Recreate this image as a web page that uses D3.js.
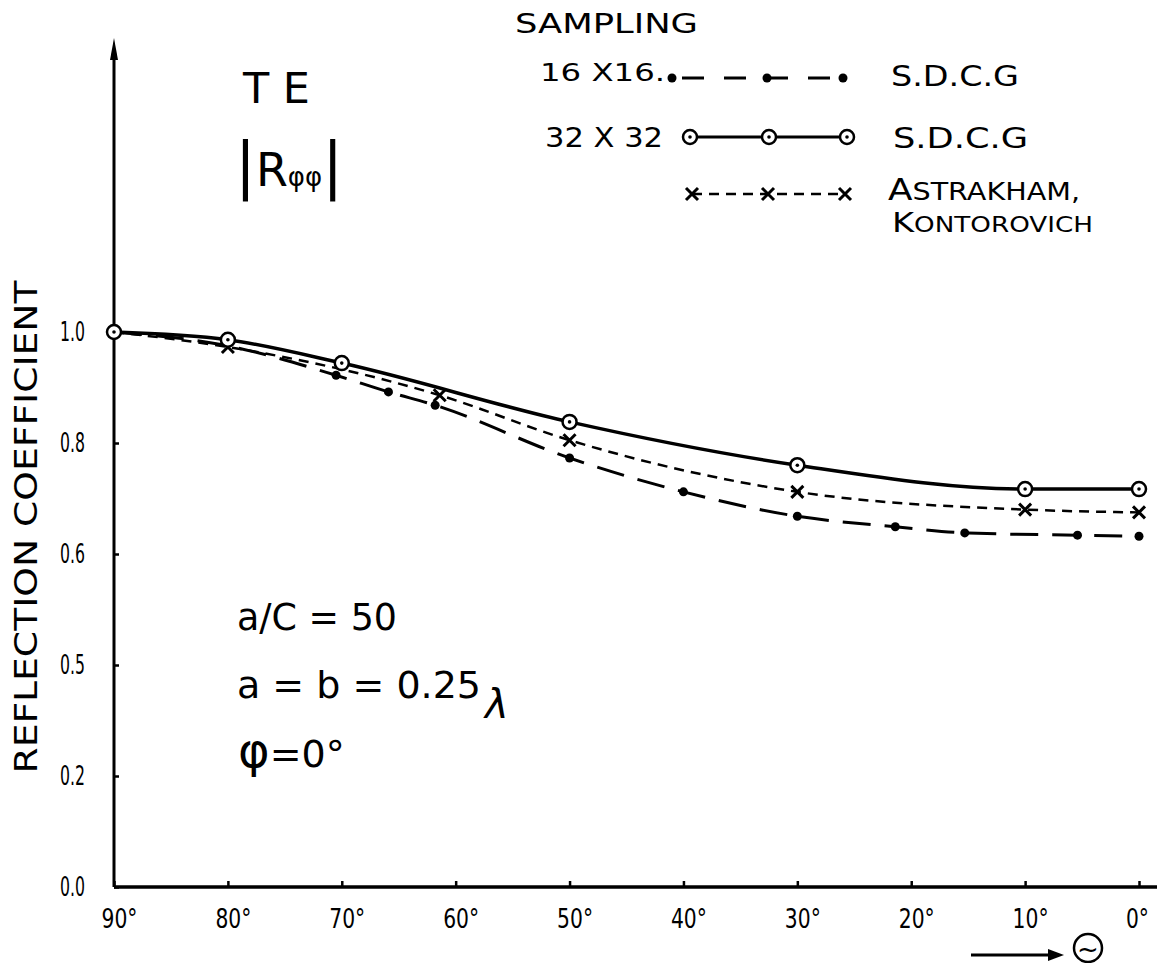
<!DOCTYPE html>
<html lang="en">
<head>
<meta charset="utf-8">
<title>TE |R phi phi| reflection coefficient</title>
<script src="https://d3js.org/d3.v7.min.js"></script>
<style>
    body { margin: 0; background: #fff; }
    svg { display: block; }
    text { font-family: "DejaVu Sans", sans-serif; fill: #000; }
    .axis path { display: none; }
    .axis line { stroke: #000; stroke-width: 2.5; }
</style>
</head>
<body>
<script>
// axis ticks and labels
const angleTicks = [90, 80, 70, 60, 50, 40, 30, 20, 10, 0];
const angleLabels = ["90°", "80°", "70°", "60°", "50°", "40°", "30°", "20°", "10°", "0°"];
const coefTicks = [0, 0.2, 0.4, 0.6, 0.8, 1.0];
const coefLabels = ["0.0", "0.2", "0.5", "0.6", "0.8", "1.0"];

// 32 x 32 sampling, S.D.C.G (solid, circles)
const sdcg32Angle = [90, 80, 70, 50, 30, 10, 0];
const sdcg32Value = [1.0, 0.986, 0.944, 0.838, 0.760, 0.717, 0.717];

// 16 x 16 sampling, S.D.C.G (long dash, dots)
const sdcg16Angle = [90, 80, 70.5, 65.9, 61.8, 50, 40, 30, 21.4, 15.3, 5.4, 0];
const sdcg16Value = [1.0, 0.975, 0.922, 0.892, 0.868, 0.773, 0.712, 0.668, 0.649, 0.638, 0.634, 0.632];

// Astrakham, Kontorovich (short dash, crosses)
const astraAngle = [90, 80, 61.4, 50, 30, 10, 0];
const astraValue = [1.0, 0.973, 0.886, 0.805, 0.712, 0.680, 0.675];

const w = 1159;
const h = 963;

const svg = d3.select("body")
    .append("svg")
    .attr("width", w)
    .attr("height", h);

svg.append("rect").attr("width", w).attr("height", h).attr("fill", "#fff");

// scales
const x = d3.scaleLinear().domain([90, 0]).range([114, 1139]);
const y = d3.scaleLinear().domain([0, 1]).range([887, 332]);

// axes
const xAxis = d3.axisBottom(x)
    .tickValues(angleTicks)
    .tickFormat((d, i) => angleLabels[i])
    .tickSizeInner(-6)
    .tickSizeOuter(0)
    .tickPadding(22);

const yAxis = d3.axisLeft(y)
    .tickValues(coefTicks)
    .tickFormat((d, i) => coefLabels[i])
    .tickSizeInner(-5)
    .tickSizeOuter(0)
    .tickPadding(29);

const gx = svg.append("g")
    .attr("class", "x axis")
    .attr("transform", `translate(0,${y(0)})`)
    .call(xAxis);
gx.selectAll("text")
    .attr("font-size", 27)
    .attr("dx", d => d === 0 ? -2 : 5)
    .attr("textLength", d => 13 * String(d).length + 10)
    .attr("lengthAdjust", "spacingAndGlyphs");

const gy = svg.append("g")
    .attr("class", "y axis")
    .attr("transform", `translate(${x(90)},0)`)
    .call(yAxis);
gy.selectAll("text")
    .attr("font-size", 26)
    .attr("textLength", 25)
    .attr("lengthAdjust", "spacingAndGlyphs");

// axis lines, y with arrow on top
svg.append("line")
    .attr("x1", x(90)).attr("y1", y(0))
    .attr("x2", 1157).attr("y2", y(0))
    .attr("stroke", "#000").attr("stroke-width", 3.5);
svg.append("line")
    .attr("x1", x(90)).attr("y1", y(0))
    .attr("x2", x(90)).attr("y2", 52)
    .attr("stroke", "#000").attr("stroke-width", 3);
svg.append("path")
    .attr("d", `M${x(90)},38 L${x(90) - 4},60 L${x(90) + 4},60 Z`)
    .attr("fill", "#000");

// axis title
svg.append("text")
    .attr("transform", "translate(37,527) rotate(-90)")
    .attr("text-anchor", "middle")
    .attr("font-size", 32)
    .attr("textLength", 493)
    .attr("lengthAdjust", "spacingAndGlyphs")
    .text("REFLECTION  COEFFICIENT");

// theta arrow under x axis
svg.append("line")
    .attr("x1", 971).attr("y1", 955).attr("x2", 1052).attr("y2", 955)
    .attr("stroke", "#000").attr("stroke-width", 3);
svg.append("path")
    .attr("d", "M1064,955 L1048,949 L1048,961 Z")
    .attr("fill", "#000");
svg.append("circle")
    .attr("cx", 1088).attr("cy", 948).attr("r", 14)
    .attr("fill", "none").attr("stroke", "#000").attr("stroke-width", 2.5);
svg.append("text")
    .attr("x", 1088).attr("y", 958)
    .attr("text-anchor", "middle")
    .attr("font-size", 26)
    .text("~");

// lines
const line = d3.line()
    .x(d => x(d[0]))
    .y(d => y(d[1]))
    .curve(d3.curveMonotoneX);

const sdcg32 = d3.zip(sdcg32Angle, sdcg32Value);
const sdcg16 = d3.zip(sdcg16Angle, sdcg16Value);
const astra = d3.zip(astraAngle, astraValue);

svg.append("path")
    .datum(sdcg16)
    .attr("d", line)
    .attr("fill", "none")
    .attr("stroke", "#000")
    .attr("stroke-width", 3)
    .attr("stroke-dasharray", "28,14");

svg.append("path")
    .datum(astra)
    .attr("d", line)
    .attr("fill", "none")
    .attr("stroke", "#000")
    .attr("stroke-width", 2.5)
    .attr("stroke-dasharray", "10,7");

svg.append("path")
    .datum(sdcg32)
    .attr("d", line)
    .attr("fill", "none")
    .attr("stroke", "#000")
    .attr("stroke-width", 3.5);

// markers
function drawDot(g, cx, cy) {
    g.append("circle").attr("cx", cx).attr("cy", cy).attr("r", 4.5).attr("fill", "#000");
}
function drawCross(g, cx, cy) {
    g.append("path")
        .attr("d", `M${cx - 6},${cy - 6} L${cx + 6},${cy + 6} M${cx + 6},${cy - 6} L${cx - 6},${cy + 6}`)
        .attr("stroke", "#000").attr("stroke-width", 3).attr("fill", "none");
}
function drawRing(g, cx, cy) {
    g.append("circle").attr("cx", cx).attr("cy", cy).attr("r", 7)
        .attr("fill", "#fff").attr("stroke", "#000").attr("stroke-width", 2.5);
    g.append("circle").attr("cx", cx).attr("cy", cy).attr("r", 1.8).attr("fill", "#000");
}

const marks = svg.append("g").attr("id", "marks");
sdcg16.slice(2).forEach(d => drawDot(marks, x(d[0]), y(d[1])));
astra.slice(1).forEach(d => drawCross(marks, x(d[0]), y(d[1])));
sdcg32.forEach(d => drawRing(marks, x(d[0]), y(d[1])));

// legend
const legend = svg.append("g").attr("id", "legend");

function addText(g, str, px, py, size, len) {
    const t = g.append("text")
        .attr("x", px).attr("y", py)
        .attr("font-size", size)
        .text(str);
    if (len) t.attr("textLength", len).attr("lengthAdjust", "spacingAndGlyphs");
    return t;
}

addText(legend, "SAMPLING", 515, 33, 26, 183);
addText(legend, "16 X16.", 540, 81, 24, 125);
addText(legend, "32 X 32", 545, 147, 27, 118);
addText(legend, "S.D.C.G", 891, 86, 29, 128);
addText(legend, "S.D.C.G", 893, 148, 29, 135);

const astraLabel = legend.append("text")
    .attr("x", 888).attr("y", 200)
    .attr("textLength", 192).attr("lengthAdjust", "spacingAndGlyphs");
astraLabel.append("tspan").attr("font-size", 30).text("A");
astraLabel.append("tspan").attr("font-size", 24).text("STRAKHAM,");

const kontLabel = legend.append("text")
    .attr("x", 892).attr("y", 232)
    .attr("textLength", 201).attr("lengthAdjust", "spacingAndGlyphs");
kontLabel.append("tspan").attr("font-size", 27).text("K");
kontLabel.append("tspan").attr("font-size", 21).text("ONTOROVICH");

// legend samples
legend.append("line")
    .attr("x1", 672).attr("y1", 78).attr("x2", 843).attr("y2", 78)
    .attr("stroke", "#000").attr("stroke-width", 3).attr("stroke-dasharray", "0,10,22,10");
[672, 767, 843].forEach(px => drawDot(legend, px, 78));

legend.append("line")
    .attr("x1", 690).attr("y1", 137).attr("x2", 847).attr("y2", 137)
    .attr("stroke", "#000").attr("stroke-width", 3);
[690, 769, 847].forEach(px => drawRing(legend, px, 137));

legend.append("line")
    .attr("x1", 692).attr("y1", 194).attr("x2", 845).attr("y2", 194)
    .attr("stroke", "#000").attr("stroke-width", 2.5).attr("stroke-dasharray", "10,7");
[692, 768, 845].forEach(px => drawCross(legend, px, 194));

// annotations
const notes = svg.append("g").attr("id", "notes");
addText(notes, "T E", 243, 103, 42, 67);

const rLabel = notes.append("text")
    .attr("x", 235).attr("y", 186);
rLabel.append("tspan").attr("font-size", 62).text("|");
rLabel.append("tspan").attr("font-size", 46).text("R");
rLabel.append("tspan").attr("font-size", 26).text("φφ");
rLabel.append("tspan").attr("font-size", 62).text("|");

addText(notes, "a/C = 50", 237, 630, 38, 160);
const abNote = notes.append("text")
    .attr("x", 237).attr("y", 698);
abNote.append("tspan").attr("font-size", 38).text("a = b = 0.25");
abNote.append("tspan").attr("font-size", 40).attr("font-style", "italic")
    .attr("dx", 4).attr("dy", 20).text("λ");

const phiNote = notes.append("text").attr("x", 238).attr("y", 767);
phiNote.append("tspan").attr("font-size", 48).text("φ");
phiNote.append("tspan").attr("font-size", 38).text("=0°");
</script>
</body>
</html>
